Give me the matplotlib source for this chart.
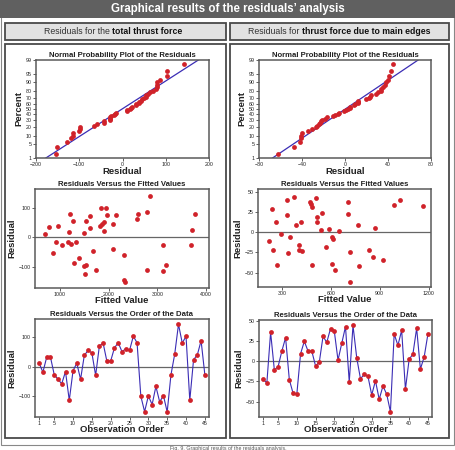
import matplotlib
matplotlib.use("Agg")
import matplotlib.pyplot as plt
from matplotlib.patches import Rectangle
from statistics import NormalDist
import numpy as np

plt.rcParams['font.family'] = ['Liberation Sans', 'DejaVu Sans']

# ---------------- data ----------------
obs = list(range(1, 46))
resid_total = [11, -19, 31, 32, -27, -43, -58, -17, -114, -14, 11, -43, 38, 54, 46,
               -30, 70, 78, 17, 19, 63, 80, 50, 60, 54, 102, 80, -100, -152, -99,
               -128, -67, -119, -98, -153, -28, 42, 142, 79, 102, -114, 23, 39, 87, -28]
resid_main = [-22.5, -26.7, 35.8, -10.8, -6.7, 12.5, 29.2, -22.9, -39.6, -40.8, 9.2, 24.6,
              12.5, 12.5, -5.8, -1.3, 30.8, 23.3, 40.4, 37.5, 1.3, 22.1, 42.9, -25.8, 44.2,
              4.2, -21.7, -16.3, -18.8, -41.7, -24.2, -47.1, -30.8, -40.8, -62.5, 33.8,
              19.6, 38.3, -34.6, 2.5, 8.75, 40.8, -9.6, 5, 33.3]

fit_total_x = [692, 774, 966, 863, 911, 1034, 1178, 1205, 1226, 1260, 1281, 1157, 1329,
               1390, 1500, 1500, 1534, 1534, 1514, 1610, 1610, 1671, 1740, 1815, 1836,
               1863, 1897, 1904, 1945, 1966, 2096, 2096, 2158, 2322, 2322, 2342, 2589,
               2610, 2781, 2788, 2849, 3123, 3123, 3171, 3685, 3719, 3781]
fit_total_y = [12.5, 34, 37.5, -55, -15, -25, 17, 80, -24, 56, -86, -16, -15, -69, 14,
               -98, 55, -94, -125, 72, 33, -47, -111, 39, 101, 44, 20, 51, 101, 77, 47,
               -41, 77, -62, -145, -151, 64, 80, 87, -112, 142, -25, -116, -94, -25, 25, 78]

fit_main_x = [220, 239, 243, 263, 271, 294, 329, 329, 339, 349, 376, 388, 404, 404, 415,
              425, 470, 476, 482, 484, 507, 517, 517, 542, 548, 572, 587, 605, 607, 613,
              624, 648, 703, 708, 718, 718, 767, 773, 832, 857, 871, 923, 986, 1023, 1166]
fit_main_y = [-11.2, 29.6, -22.5, 12.5, -40.4, -1.7, 40, 21.7, -25.4, -6.3, 43.8, 9.2,
              -16.3, -22.5, 12.5, -23.3, 37.5, 35, 31.3, -40.8, 42.5, 19.2, 12.5, 3.3,
              24.2, -18.8, 4.6, -5.8, -39.2, -8.8, -47.1, 1.3, 37.9, 23.3, -25, -61.7,
              9.2, -41.7, -22.1, -30.4, 5, -33.8, 34.2, 40.8, 32.9]

pct_ticks = [1, 5, 10, 20, 30, 40, 50, 60, 70, 80, 90, 95, 99]

# ---------------- style ----------------
W, H = 456, 450
RED = '#d0222a'
BLUE = '#3b2db5'
FRAME = '#5a5a5a'

fig = plt.figure(figsize=(W / 100, H / 100), dpi=100)
fig.patch.set_facecolor('white')


def rect(x0, y0, x1, y1, fc, ec, lw, z=-5):
    fig.patches.append(Rectangle((x0 / W, 1 - y1 / H), (x1 - x0) / W, (y1 - y0) / H,
                                 transform=fig.transFigure, facecolor=fc, edgecolor=ec,
                                 linewidth=lw, zorder=z))


def axes(x0, y0, x1, y1):
    ax = fig.add_axes([x0 / W, 1 - y1 / H, (x1 - x0) / W, (y1 - y0) / H])
    ax.set_zorder(2)
    for s in ax.spines.values():
        s.set_color(FRAME)
        s.set_linewidth(1.1)
    ax.tick_params(labelsize=3.8, length=2, width=0.5, pad=1, colors='#222222')
    return ax


# outer frame and title bar
rect(1, 14, 454, 445, 'white', '#888888', 0.8, z=-6)
rect(0, 0, 456, 18, '#606060', 'none', 0, z=-5)
fig.text(0.5, 1 - 9 / H, "Graphical results of the residuals\u2019 analysis", color='white',
         fontsize=8.3, fontweight='bold', ha='center', va='center')

# header boxes
rect(5, 23, 226, 40, '#e2e2e2', '#4a4a4a', 1.3)
rect(230, 23, 449, 40, '#e2e2e2', '#4a4a4a', 1.3)
# column boxes
rect(5, 44, 226, 438, 'white', '#4a4a4a', 1.3)
rect(230, 44, 449, 438, 'white', '#4a4a4a', 1.3)


def header(xc, normal, bold):
    t1 = fig.text(0, 0, normal, fontsize=6.3)
    t2 = fig.text(0, 0, bold, fontsize=6.3, fontweight='bold')
    fig.canvas.draw()
    r = fig.canvas.get_renderer()
    w1 = t1.get_window_extent(r).width
    w2 = t2.get_window_extent(r).width
    x0 = xc - (w1 + w2) / 2
    y = 1 - 31.5 / H
    t1.set_position((x0 / W, y)); t1.set_va('center'); t1.set_color('#333333')
    t2.set_position(((x0 + w1) / W, y)); t2.set_va('center'); t2.set_color('#111111')


header(113, "Residuals for the ", "total thrust force")
header(339.5, "Residuals for ", "thrust force due to main edges")

TITLE_KW = dict(fontsize=5.6, fontweight='bold', pad=2, color='#222222')
LABEL_KW = dict(fontsize=6.8, fontweight='bold', color='#222222')
nd = NormalDist()
MS = 12


def prob_plot(ax, r, xlim, xticks):
    r = np.sort(np.asarray(r, dtype=float))
    n = len(r)
    p = (np.arange(1, n + 1) - 0.3) / (n + 0.4)
    z = np.array([nd.inv_cdf(v) for v in p])
    mu, sd = r.mean(), r.std(ddof=1)
    zl = np.array([nd.inv_cdf(0.005), nd.inv_cdf(0.995)])
    ax.plot(mu + sd * zl, zl, color=BLUE, lw=0.9, zorder=2)
    ax.scatter(r, z, s=MS, color=RED, zorder=3, linewidths=0)
    ax.set_xlim(*xlim)
    ax.set_xticks(xticks)
    ax.set_ylim(nd.inv_cdf(0.01), nd.inv_cdf(0.99))
    ax.set_yticks([nd.inv_cdf(v / 100) for v in pct_ticks])
    ax.set_yticklabels([str(v) for v in pct_ticks])
    ax.set_title("Normal Probability Plot of the Residuals", **TITLE_KW)
    ax.set_xlabel("Residual", labelpad=0, **LABEL_KW)
    ax.set_ylabel("Percent", labelpad=2, **LABEL_KW)


def fitted_plot(ax, x, y, xlim, xticks, ylim, yticks):
    ax.axhline(0, color='#666666', lw=0.9, zorder=1)
    ax.scatter(x, y, s=MS, color=RED, zorder=3, linewidths=0)
    ax.set_xlim(*xlim); ax.set_xticks(xticks)
    ax.set_ylim(*ylim); ax.set_yticks(yticks)
    ax.set_title("Residuals Versus the Fitted Values", **TITLE_KW)
    ax.set_xlabel("Fitted Value", labelpad=-1, **LABEL_KW)
    ax.set_ylabel("Residual", labelpad=2, **LABEL_KW)


def order_plot(ax, x, y, ylim, yticks):
    ax.axhline(0, color='#666666', lw=0.9, zorder=1)
    ax.plot(x, y, color=BLUE, lw=0.8, zorder=2)
    ax.scatter(x, y, s=MS, color=RED, zorder=3, linewidths=0)
    ax.set_xlim(-0.1, 46.1)
    ax.set_xticks([1, 5, 10, 15, 20, 25, 30, 35, 40, 45])
    ax.set_ylim(*ylim); ax.set_yticks(yticks)
    ax.set_title("Residuals Versus the Order of the Data", **TITLE_KW)
    ax.set_xlabel("Observation Order", labelpad=-1, **LABEL_KW)
    ax.set_ylabel("Residual", labelpad=2, **LABEL_KW)


# left column
ax = axes(36, 60, 209, 158)
prob_plot(ax, resid_total, (-200, 200), [-200, -100, 0, 100, 200])
ax = axes(35, 189, 209, 288)
fitted_plot(ax, fit_total_x, fit_total_y, (490, 4060), [1000, 2000, 3000, 4000],
            (-173, 165), [-100, 0, 100])
ax = axes(35, 319, 209, 417)
order_plot(ax, obs, resid_total, (-170, 160), [-100, 0, 100])

# right column
ax = axes(259, 60, 431, 158)
prob_plot(ax, resid_main, (-80, 80), [-80, -40, 0, 40, 80])
ax = axes(258, 189, 431, 287)
fitted_plot(ax, fit_main_x, fit_main_y, (152, 1215), [300, 600, 900, 1200],
            (-68, 54), [-50, -25, 0, 25, 50])
ax = axes(259, 320, 432, 417)
order_plot(ax, obs, resid_main, (-69, 51), [-50, -25, 0, 25, 50])

fig.text(0.5, 1 - 448.5 / H, "Fig. 9. Graphical results of the residuals analysis.",
         fontsize=3.8, color='#555555', ha='center', va='center')

fig.savefig("out.png", dpi=100)
